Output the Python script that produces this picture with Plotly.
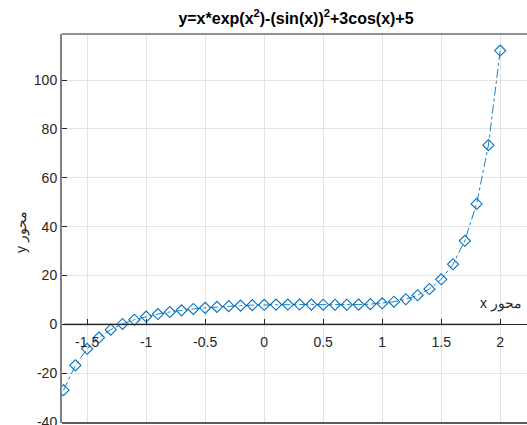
import plotly.graph_objects as go

x_vals = [-1.7, -1.6, -1.5, -1.4, -1.3, -1.2, -1.1, -1.0, -0.9, -0.8, -0.7, -0.6,
          -0.5, -0.4, -0.3, -0.2, -0.1, 0.0, 0.1, 0.2, 0.3, 0.4, 0.5, 0.6, 0.7,
          0.8, 0.9, 1.0, 1.1, 1.2, 1.3, 1.4, 1.5, 1.6, 1.7, 1.8, 1.9, 2.0]
y_vals = [-26.96, -16.79, -10.01, -5.40, -2.17, 0.15, 1.88, 3.20, 4.23, 5.06, 5.74, 6.30,
          6.76, 7.14, 7.45, 7.69, 7.87, 8.00, 8.08, 8.11, 8.11, 8.08, 8.05, 8.02, 8.02,
          8.09, 8.27, 8.63, 9.26, 10.28, 11.92, 14.48, 18.45, 24.61, 34.22, 49.33, 73.37, 112.12]
zero_vals = [0.0] * len(x_vals)

x_ticks = [-1.5, -1, -0.5, 0, 0.5, 1, 1.5, 2]
x_ticklabels = ["-1.5", "-1", "-0.5", "0", "0.5", "1", "1.5", "2"]
y_ticks = [-40, -20, 0, 20, 40, 60, 80, 100]
y_ticklabels = ["-40", "-20", "0", "20", "40", "60", "80", "100"]

title_text = "y=x*exp(x<sup>2</sup>)-(sin(x))<sup>2</sup>+3cos(x)+5"
x_label = "x محور"
y_label = "y محور"

X_RANGE = [-1.713, 2.227]
Y_RANGE = [-40.4, 118.9]

FONT = "Liberation Sans, Arial, sans-serif"

fig = go.Figure()
fig.add_trace(go.Scatter(
    x=x_vals, y=y_vals, mode="lines+markers",
    line=dict(color="#0072BD", width=0.9, dash="dashdot"),
    marker=dict(symbol="diamond-open", size=8.5, color="#0072BD",
                line=dict(width=1.1, color="#0072BD")),
    showlegend=False))
fig.add_trace(go.Scatter(
    x=x_vals, y=zero_vals, mode="lines", xaxis="x2", yaxis="y",
    line=dict(color="#D95319", width=1.6),
    showlegend=False))

y0_frac = (0 - Y_RANGE[0]) / (Y_RANGE[1] - Y_RANGE[0])

W, H = 527, 425
ml, mt, mb = 62, 34, 2
pw = W - ml
ph = H - mt - mb

fig.update_layout(
    width=W, height=H,
    margin=dict(l=ml, r=0, t=mt, b=mb, autoexpand=False),
    paper_bgcolor="white", plot_bgcolor="white",
    font=dict(family=FONT, size=14, color="#262626"),
    title=dict(text=title_text, x=296 / W, xanchor="center",
               y=1 - 18 / H, yanchor="middle",
               font=dict(family=FONT, size=16, color="black", weight="bold")),
    xaxis=dict(range=X_RANGE, tickvals=x_ticks, showticklabels=False,
               showline=False, ticks="", showgrid=True, gridcolor="#e3e3e3",
               gridwidth=1, zeroline=False, anchor="y", automargin=False),
    xaxis2=dict(range=X_RANGE, matches="x", overlaying="x", anchor="free",
                position=y0_frac, tickvals=x_ticks, ticktext=x_ticklabels,
                showline=True, linecolor="#262626", linewidth=1,
                ticks="inside", ticklen=5, tickcolor="#262626",
                showgrid=False, zeroline=False, automargin=False,
                ticklabeloverflow="allow",
                tickfont=dict(size=14, color="#262626"), ticklabelstandoff=5),
    yaxis=dict(range=Y_RANGE, tickvals=y_ticks, ticktext=y_ticklabels,
               anchor="x", automargin=False, ticklabeloverflow="allow",
               showline=True, linecolor="#808080", linewidth=2,
               ticks="inside", ticklen=5, tickcolor="#262626",
               showgrid=True, gridcolor="#e3e3e3", gridwidth=1,
               zeroline=False, tickfont=dict(size=14, color="#262626")),
    shapes=[
        dict(type="line", xref="paper", yref="paper", x0=0, x1=1, y0=1, y1=1,
             line=dict(color="#262626", width=1.2)),
        dict(type="line", xref="paper", yref="paper", x0=0, x1=1, y0=0, y1=0,
             line=dict(color="#262626", width=1.5)),
    ],
    annotations=[
        dict(text=x_label, xref="x", yref="y", x=2.01, y=8.6, showarrow=False,
             xanchor="center", yanchor="middle", font=dict(size=14, color="#262626")),
        dict(text=y_label, xref="paper", yref="paper", x=(22 - 62) / pw,
             y=(423 - 232) / ph, textangle=-90, showarrow=False,
             xanchor="center", yanchor="middle", font=dict(size=14, color="#262626")),
    ],
)

fig.write_html(
    "out.html",
    config={"displayModeBar": False},
    post_script="document.body.style.margin='0';document.body.style.overflow='hidden';",
)
